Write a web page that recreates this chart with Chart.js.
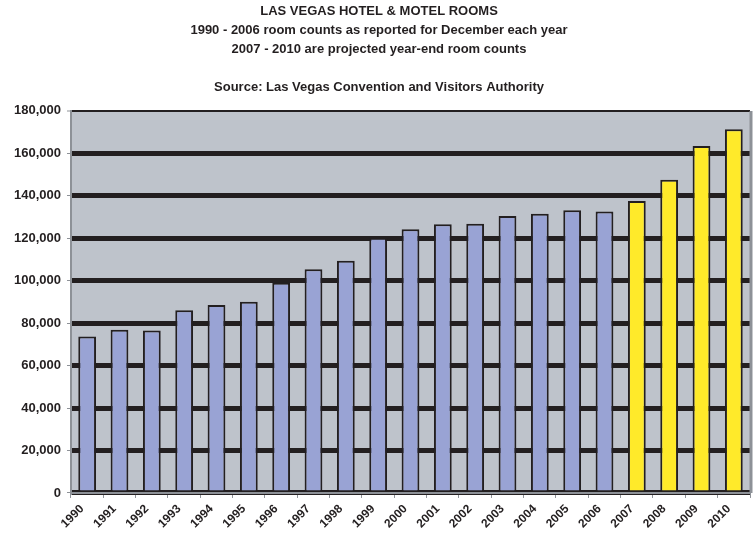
<!DOCTYPE html>
<html>
<head>
<meta charset="utf-8">
<script src="https://cdn.jsdelivr.net/npm/chart.js@4/dist/chart.umd.min.js"></script>
<style>
  html, body { margin: 0; padding: 0; background: #fff; }
  #wrap { width: 755px; height: 540px; }
</style>
</head>
<body>
<div id="wrap"><canvas id="rooms"></canvas></div>
<script>
// data
const years = ["1990", "1991", "1992", "1993", "1994", "1995", "1996", "1997", "1998", "1999", "2000",
               "2001", "2002", "2003", "2004", "2005", "2006", "2007", "2008", "2009", "2010"];
const rooms = [73730, 76880, 76520, 86050, 88560, 90050, 99070, 105350, 109370, 120290, 124270,
               126610, 126790, 130480, 131500, 133190, 132610, 137500, 147600, 163500, 171400];
const projectedFrom = "2007";
const titleLines = [
    "LAS VEGAS HOTEL & MOTEL ROOMS",
    "1990 - 2006 room counts as reported for December each year",
    "2007 - 2010 are projected year-end room counts",
    "",
    "Source: Las Vegas Convention and Visitors Authority"
];

const FONT = "'Liberation Sans', Arial, sans-serif";

// grey plot background + right border
const plotBackground = {
    id: "plotBackground",
    beforeDraw(chart) {
        const { ctx, chartArea: a } = chart;
        ctx.save();
        ctx.fillStyle = "#bec3cb";
        ctx.fillRect(a.left, a.top, a.right - a.left, a.bottom - a.top);
        ctx.restore();
    },
    afterDraw(chart) {
        const { ctx, chartArea: a } = chart;
        ctx.save();
        ctx.strokeStyle = "#8d9197";
        ctx.lineWidth = 3;
        ctx.beginPath();
        ctx.moveTo(a.right + 1, a.top);
        ctx.lineTo(a.right + 1, a.bottom);
        ctx.stroke();
        ctx.restore();
    }
};

const barColors = years.map(y => (Number(y) >= Number(projectedFrom) ? "#ffea2a" : "#99a3d4"));

new Chart(document.getElementById("rooms"), {
    type: "bar",
    data: {
        labels: years,
        datasets: [{
            data: rooms,
            backgroundColor: barColors,
            borderColor: "#231f20",
            borderWidth: 2,
            categoryPercentage: 1,
            barPercentage: 0.55
        }]
    },
    options: {
        responsive: true,
        maintainAspectRatio: false,
        animation: false,
        layout: { padding: { left: 8, right: 5, top: 0, bottom: 5 } },
        plugins: {
            legend: { display: false },
            tooltip: { enabled: false },
            title: {
                display: true,
                text: titleLines,
                color: "#231f20",
                font: { family: FONT, size: 13, weight: "bold", lineHeight: 1.46 },
                padding: { top: 2, bottom: 14 }
            }
        },
        scales: {
            x: {
                offset: true,
                grid: {
                    offset: true,
                    drawOnChartArea: false,
                    drawTicks: true,
                    tickLength: 5,
                    color: "#8d9197"
                },
                border: { color: "#8d9197", width: 2 },
                ticks: {
                    maxRotation: 45,
                    minRotation: 45,
                    labelOffset: -5,
                    color: "#231f20",
                    padding: 4,
                    font: { family: FONT, size: 12, weight: "bold" }
                }
            },
            y: {
                min: 0,
                max: 180000,
                grid: {
                    color: "#231f20",
                    lineWidth: c => (c.tick && c.tick.value === 180000 ? 2 : 5),
                    tickColor: "#8d9197",
                    tickWidth: 1,
                    tickLength: 4
                },
                border: { color: "#8d9197", width: 2 },
                ticks: {
                    stepSize: 20000,
                    color: "#231f20",
                    padding: 6,
                    font: { family: FONT, size: 13, weight: "bold" },
                    callback: v => v.toLocaleString("en-US")
                }
            }
        }
    },
    plugins: [plotBackground]
});
</script>
</body>
</html>
